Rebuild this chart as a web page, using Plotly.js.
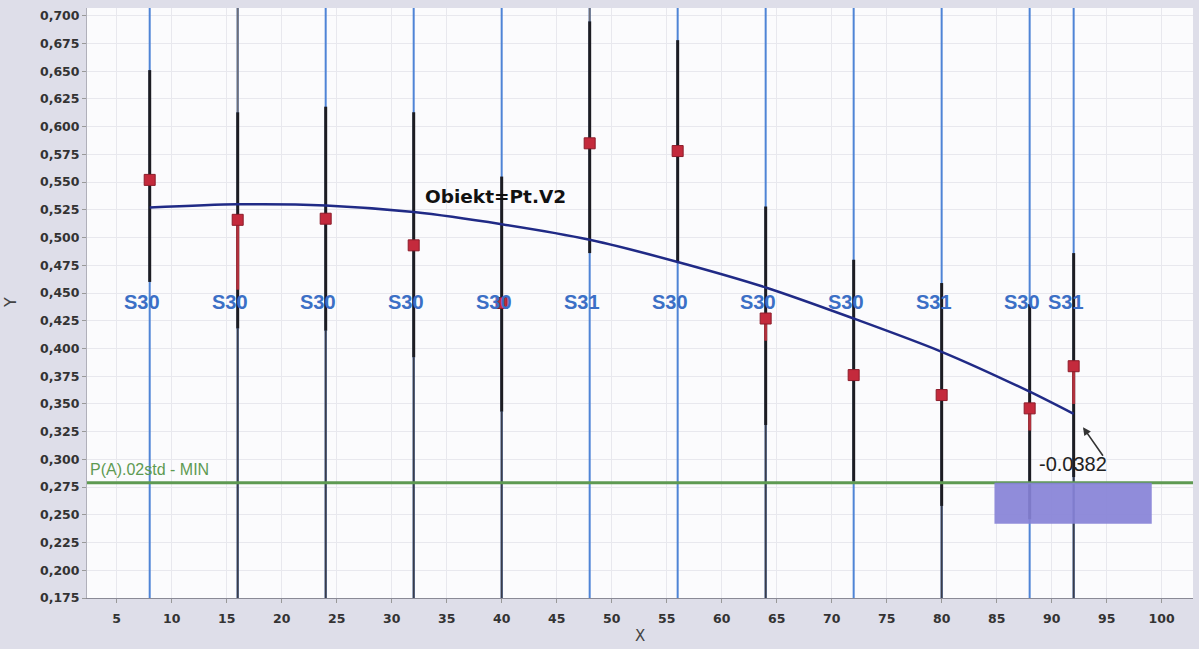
<!DOCTYPE html>
<html>
<head>
<meta charset="utf-8">
<script src="https://cdn.plot.ly/plotly-3.0.1.min.js"></script>
<style>
  html, body { margin: 0; padding: 0; background: #dedee9; }
  #chart { width: 1199px; height: 649px; }
</style>
</head>
<body>
<div id="chart"></div>
<script>
// Sample positions and sample labels
const xs     = [8, 16, 24, 32, 40, 48, 56, 64, 72, 80, 88, 92];
const labels = ['S30','S30','S30','S30','S30','S31','S30','S30','S30','S31','S30','S31'];

// Mean value and range (high / low) per sample
const means = [0.552, 0.516, 0.517, 0.493, 0.441, 0.585, 0.578, 0.427, 0.376, 0.358, 0.346, 0.384];
const highs = [0.651, 0.613, 0.618, 0.613, 0.555, 0.695, 0.678, 0.528, 0.480, 0.459, 0.440, 0.486];
const lows  = [0.460, 0.418, 0.416, 0.392, 0.343, 0.486, 0.478, 0.331, 0.280, 0.258, 0.246, 0.284];
// Lower end of the red deviation segment below the mean (null = none)
const devLows = [null, 0.453, null, null, null, null, null, 0.407, null, null, 0.326, 0.350];

// Fitted trend (Obiekt=Pt.V2)
const fitX = [8, 16, 24, 32, 40, 48, 56, 64, 72, 80, 88, 92];
const fitY = [0.527, 0.530, 0.529, 0.523, 0.512, 0.498, 0.478, 0.455, 0.427, 0.397, 0.361, 0.341];

// Limit line P(A).02std - MIN
const limitValue = 0.279;

// Shaded band near the last samples
const bandX = [84.8, 99.1];
const bandY = [0.242, 0.279];

// Deviation note at the end of the trend
const noteText = '-0.0382';

// Axis ranges and ticks
const xRange = [2.3, 102.85];
const yRange = [0.175, 0.707];
const xTickStep = 5;
const yTickStep = 0.025;

// Stems whose lower/upper part is drawn dark/grey instead of blue
const darkLowerStems = [16, 24, 32, 40, 64, 80, 92];
const greyUpperStems = [16, 48];

function segs(xList, y0List, y1List) {
  const X = [], Y = [];
  xList.forEach((x, i) => {
    const a = y0List[i], b = y1List[i];
    if (a === null || b === null) return;
    X.push(x, x, null);
    Y.push(a, b, null);
  });
  return {x: X, y: Y};
}

const traces = [];

// full-height sample stems
const stems = segs(xs, xs.map(() => yRange[0]), xs.map(() => yRange[1]));
traces.push({x: stems.x, y: stems.y, mode: 'lines', line: {color: '#4f84d6', width: 2},
  hoverinfo: 'skip', showlegend: false});

// dark lower stems
const dl = xs.map((x, i) => darkLowerStems.includes(x) ? i : -1).filter(i => i >= 0);
const dlSeg = segs(dl.map(i => xs[i]), dl.map(() => yRange[0]), dl.map(i => lows[i]));
traces.push({x: dlSeg.x, y: dlSeg.y, mode: 'lines', line: {color: '#3a3c4a', width: 2},
  hoverinfo: 'skip', showlegend: false});

// grey upper stems
const gu = xs.map((x, i) => greyUpperStems.includes(x) ? i : -1).filter(i => i >= 0);
const guSeg = segs(gu.map(i => xs[i]), gu.map(i => highs[i]), gu.map(() => yRange[1]));
traces.push({x: guSeg.x, y: guSeg.y, mode: 'lines', line: {color: '#6e6e78', width: 2},
  hoverinfo: 'skip', showlegend: false});

// range whiskers
const wh = segs(xs, lows, highs);
traces.push({x: wh.x, y: wh.y, mode: 'lines', line: {color: '#1c1c22', width: 3},
  hoverinfo: 'skip', showlegend: false});

// red deviation segments
const dv = segs(xs, means, devLows);
traces.push({x: dv.x, y: dv.y, mode: 'lines', line: {color: '#b0303c', width: 3},
  hoverinfo: 'skip', showlegend: false});

// limit line
traces.push({x: xRange, y: [limitValue, limitValue], mode: 'lines',
  line: {color: '#5e9a52', width: 3}, hoverinfo: 'skip', showlegend: false});

// shaded band
traces.push({x: [bandX[0], bandX[1], bandX[1], bandX[0], bandX[0]],
  y: [bandY[1], bandY[1], bandY[0], bandY[0], bandY[1]],
  mode: 'lines', fill: 'toself', fillcolor: 'rgba(135,130,215,0.92)',
  line: {width: 0, color: 'rgba(0,0,0,0)'}, hoverinfo: 'skip', showlegend: false});

// fitted trend
traces.push({x: fitX, y: fitY, mode: 'lines', line: {color: '#202a86', width: 2.5, shape: 'spline', smoothing: 0.8},
  hoverinfo: 'skip', showlegend: false});

// mean markers
traces.push({x: xs, y: means, mode: 'markers',
  marker: {symbol: 'square', size: 11, color: '#c42a3c', line: {color: '#8c1c2a', width: 1}},
  hoverinfo: 'skip', showlegend: false});

const annotations = [];
xs.forEach((x, i) => {
  annotations.push({x: x, y: 0.4417, xref: 'x', yref: 'y', text: labels[i], showarrow: false,
    xshift: -8, font: {family: 'Liberation Sans, Arial, sans-serif', size: 20, color: '#3b6fc6', weight: 'bold'}});
});
annotations.push({x: 39.4, y: 0.5374, xref: 'x', yref: 'y', text: 'Obiekt=Pt.V2', showarrow: false,
  font: {family: 'DejaVu Sans, sans-serif', size: 18.5, color: '#111', weight: 'bold'}});
annotations.push({x: xRange[0], y: limitValue, xref: 'x', yref: 'y', text: 'P(A).02std - MIN',
  showarrow: false, xanchor: 'left', yanchor: 'bottom', xshift: 1, yshift: 3,
  font: {family: 'Liberation Sans, Arial, sans-serif', size: 16, color: '#5e9a52'}});
// arrow towards the end of the trend
annotations.push({x: fitX[fitX.length - 1] + 0.85, y: fitY[fitY.length - 1] - 0.012, xref: 'x', yref: 'y',
  text: '', showarrow: true, arrowhead: 2, arrowsize: 1, arrowwidth: 1.6, arrowcolor: '#333',
  ax: 21, ay: 30, standoff: 0});
annotations.push({x: fitX[fitX.length - 1], y: limitValue, xref: 'x', yref: 'y', text: noteText,
  showarrow: false, xanchor: 'center', yanchor: 'bottom', xshift: -1, yshift: 6,
  font: {family: 'Liberation Sans, Arial, sans-serif', size: 20, color: '#222'}});
// axis titles
annotations.push({x: 0.5, y: 0, xref: 'paper', yref: 'paper', text: 'X', showarrow: false,
  xanchor: 'center', yanchor: 'middle', yshift: -38,
  font: {family: 'DejaVu Sans, sans-serif', size: 15, color: '#444'}});
annotations.push({x: 0, y: 0.5, xref: 'paper', yref: 'paper', text: 'Y', showarrow: false,
  xanchor: 'center', yanchor: 'middle', xshift: -77, textangle: -90,
  font: {family: 'DejaVu Sans, sans-serif', size: 16, color: '#444'}});

const tickFont = {family: 'DejaVu Sans, sans-serif', size: 12.5, color: '#333', weight: 'bold'};

const layout = {
  width: 1199, height: 649,
  margin: {l: 87, r: 6, t: 8, b: 51},
  paper_bgcolor: '#dedee9',
  plot_bgcolor: '#fbfbfd',
  separators: ',.',
  showlegend: false,
  xaxis: {
    range: xRange, tick0: 0, dtick: xTickStep, tickmode: 'linear',
    showgrid: true, gridcolor: '#e8e8ee', gridwidth: 1, zeroline: false,
    showline: true, linecolor: '#8a8a96', linewidth: 1, mirror: false,
    ticks: 'outside', ticklen: 4, tickcolor: '#999',
    ticklabelstandoff: 5,
    tickfont: tickFont
  },
  yaxis: {
    range: yRange, tick0: 0, dtick: yTickStep, tickmode: 'linear', tickformat: '.3f',
    showgrid: true, gridcolor: '#e8e8ee', gridwidth: 1, zeroline: false,
    showline: true, linecolor: '#b0b0ba', linewidth: 1,
    ticks: 'outside', ticklen: 4, tickcolor: '#999',
    tickfont: tickFont
  },
  annotations: annotations
};

Plotly.newPlot('chart', traces, layout, {displayModeBar: false, staticPlot: true});
</script>
</body>
</html>
